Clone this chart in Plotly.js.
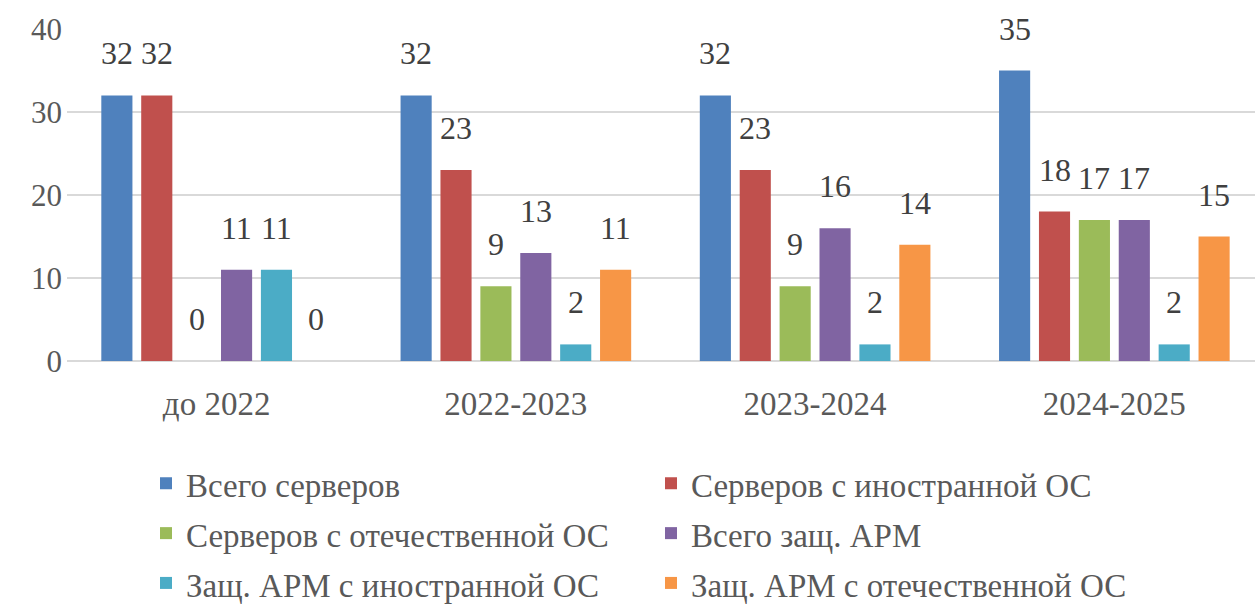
<!DOCTYPE html>
<html><head><meta charset="utf-8">
<script src="https://cdn.plot.ly/plotly-3.0.1.min.js"></script>
<style>html,body{margin:0;padding:0;background:#fff}</style>
</head><body><div id="chart" style="width:1255px;height:607px"></div>
<script>
const categories = ["до 2022", "2022-2023", "2023-2024", "2024-2025"];
const seriesNames = ["Всего серверов", "Серверов с иностранной ОС", "Серверов с отечественной ОС", "Всего защ. АРМ", "Защ. АРМ с иностранной ОС", "Защ. АРМ с отечественной ОС"];
const totalServers = [32, 32, 32, 35];
const foreignServers = [32, 23, 23, 18];
const domesticServers = [0, 9, 9, 17];
const totalArm = [11, 13, 16, 17];
const foreignArm = [11, 2, 2, 2];
const domesticArm = [0, 11, 14, 15];
const colors = ["#4F81BD", "#C0504D", "#9BBB59", "#8064A2", "#4BACC6", "#F79646"];

const series = [totalServers, foreignServers, domesticServers, totalArm, foreignArm, domesticArm];
const bargap = 0.2;
const FAM = "Liberation Serif";

const traces = series.map((vals, i) => ({
  type: "bar", name: '<span style="font-size:33px">' + seriesNames[i] + '</span>',
  x: categories, y: vals,
  marker: {color: colors[i]}, hoverinfo: "none"
}));

const annotations = [];
const n = series.length;
const slot = (1 - bargap) / n;
series.forEach((vals, i) => {
  vals.forEach((v, c) => {
    annotations.push({
      xref: "x", yref: "y", x: c + (i - (n - 1) / 2) * slot, y: v,
      text: String(v), showarrow: false, yanchor: "bottom", yshift: 22,
      font: {family: FAM, size: 32, color: "#404040"}
    });
  });
});

const layout = {
  width: 1255, height: 607,
  margin: {l: 67, r: 0, t: 29, b: 246},
  paper_bgcolor: "#fff", plot_bgcolor: "#fff",
  barmode: "group", bargap: bargap, bargroupgap: 0.22,
  font: {family: FAM, color: "#595959"},
  xaxis: {
    type: "category", range: [-0.5, 3.47], showgrid: false, zeroline: false,
    showline: false, ticks: "", ticklabelstandoff: 20,
    tickfont: {family: FAM, size: 33, color: "#595959"}
  },
  yaxis: {
    range: [0, 40], dtick: 10, showgrid: true, gridcolor: "#D9D9D9", gridwidth: 2,
    zeroline: true, zerolinecolor: "#D9D9D9", zerolinewidth: 2, showline: false,
    ticks: "", ticklabelstandoff: 4,
    tickfont: {family: FAM, size: 31, color: "#595959"}
  },
  showlegend: true,
  legend: {
    orientation: "h", x: 0.0665, xanchor: "left", y: 0.253, yref: "container", yanchor: "top",
    entrywidth: 460, entrywidthmode: "pixels", traceorder: "normal",
    font: {family: FAM, size: 36, color: "#595959"}
  },
  annotations: annotations
};

Plotly.newPlot("chart", traces, layout, {displayModeBar: false});
</script>
</body></html>
